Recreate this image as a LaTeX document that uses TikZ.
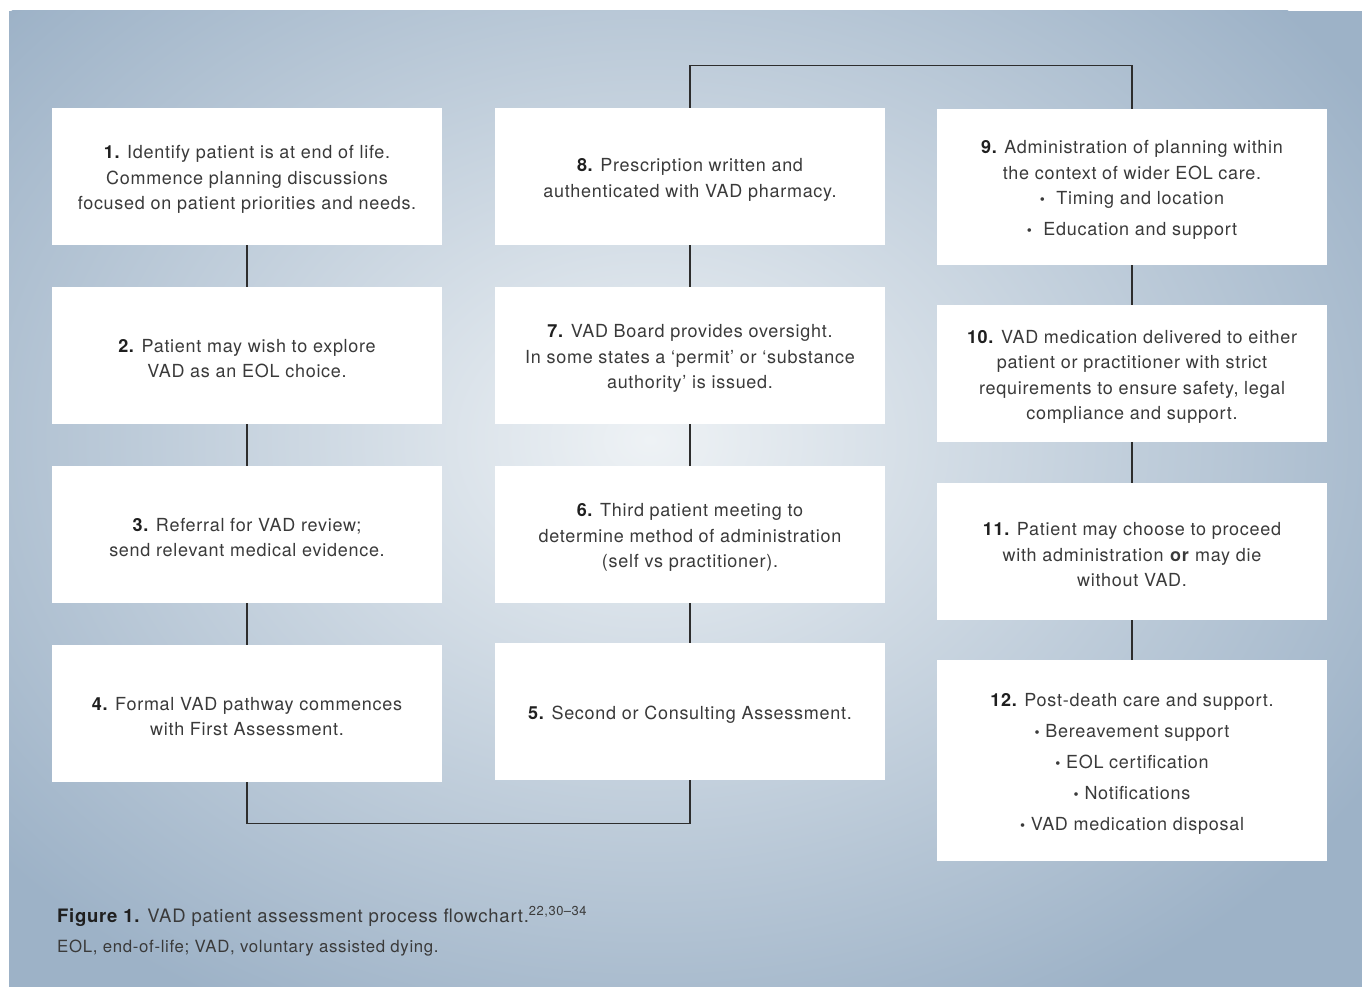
\documentclass[tikz,border=0pt]{standalone}
\usepackage{fontspec}
\setmainfont{TeX Gyre Heros}[LetterSpace=4]
\usepackage{tikz}
\usetikzlibrary{positioning, calc}
\definecolor{bgedge}{RGB}{157, 178, 199}
\definecolor{bgcenter}{RGB}{238, 242, 245}
\definecolor{textgray}{RGB}{58, 58, 58}
\definecolor{linegray}{RGB}{45, 45, 45}
\newcommand{\stepnum}[1]{\rule{0pt}{19.5pt}\textbf{\color{black!88}#1}}
\newcommand{\bul}{\scalebox{0.8}{•}}

\begin{document}
\begin{tikzpicture}[x=1pt, y=-1pt,
        stepbox/.style={fill=white, minimum width=390pt, minimum height=137pt, inner sep=0pt,
            align=center, text=textgray, font=\fontsize{18}{25.5}\selectfont},
        link/.style={linegray, line width=1.4pt}]
        % Page and shaded backdrop
        \useasboundingbox (0,0) rectangle (1362,987);
        \fill[white] (0,0) rectangle (1362,987);
        \fill[bgedge] (9,11) rectangle (1362,987);
        \begin{scope}
            \clip (9,11) rectangle (1362,987);
            \shade[inner color=bgcenter, outer color=bgedge] (650,440) ellipse (850 and 650);
        \end{scope}
        
        % Column 1
        \node[stepbox] (b1) at (247,176.5) {\stepnum{1.} Identify patient is at end of life.\\ Commence planning discussions\\ focused on patient priorities and needs.};
        \node[stepbox] (b2) at (247,355.5) {\stepnum{2.} Patient may wish to explore\\ VAD as an EOL choice.};
        \node[stepbox] (b3) at (247,534.5) {\stepnum{3.} Referral for VAD review;\\ send relevant medical evidence.};
        \node[stepbox] (b4) at (247,713.5) {\stepnum{4.} Formal VAD pathway commences\\ with First Assessment.};
        
        % Column 2
        \node[stepbox] (b8) at (690,176.5) {\stepnum{8.} Prescription written and\\ authenticated with VAD pharmacy.};
        \node[stepbox] (b7) at (690,355.5) {\stepnum{7.} VAD Board provides oversight.\\ In some states a ‘permit’ or ‘substance\\ authority’ is issued.};
        \node[stepbox] (b6) at (690,534.5) {\stepnum{6.} Third patient meeting to\\ determine method of administration\\ (self vs practitioner).};
        \node[stepbox] (b5) at (690,711.5) {\stepnum{5.} Second or Consulting Assessment.};
        
        % Column 3
        \node[stepbox, minimum height=156pt] (b9) at (1132,187) {\stepnum{9.} Administration of planning within\\ the context of wider EOL care.\\ \bul\ \ Timing and location\\[5.5pt] \bul\ \ Education and support};
        \node[stepbox] (b10) at (1132,373.5) {\stepnum{10.} VAD medication delivered to either\\ patient or practitioner with strict\\ requirements to ensure safety, legal\\ compliance and support.};
        \node[stepbox] (b11) at (1132,551.5) {\stepnum{11.} Patient may choose to proceed\\ with administration \textbf{or} may die\\ without VAD.};
        \node[stepbox, minimum height=201pt] (b12) at (1132,760.5) {\stepnum{12.} Post-death care and support.\\[5.5pt] \bul\ Bereavement support\\[5.5pt] \bul\ EOL certification\\[5.5pt] \bul\ Notifications\\[5.5pt] \bul\ VAD medication disposal};
        
        % Links down, across and up
        \draw[link] (b1.south) -- (b2.north);
        \draw[link] (b2.south) -- (b3.north);
        \draw[link] (b3.south) -- (b4.north);
        \draw[link] (b4.south) -- ++(0,41) -| (b5.south);
        \draw[link] (b5.north) -- (b6.south);
        \draw[link] (b6.north) -- (b7.south);
        \draw[link] (b7.north) -- (b8.south);
        \draw[link] (b8.north) -- ++(0,-42) -| (b9.north);
        \draw[link] (b9.south) -- (b10.north);
        \draw[link] (b10.south) -- (b11.north);
        \draw[link] (b11.south) -- (b12.north);
        
        % Caption
        \node[anchor=base west, inner sep=0pt, text=textgray, font=\fontsize{18.5}{20}\selectfont] (cap) at (57,922)
            {\textbf{\color{black!88}Figure 1.} VAD patient assessment process flowchart.\textsuperscript{22,30–34}};
        \node[anchor=base west, inner sep=0pt, text=textgray, font=\fontsize{16.8}{18}\selectfont] (abbr) at (57,952)
            {EOL, end-of-life; VAD, voluntary assisted dying.};
    \end{tikzpicture}
\end{document}
